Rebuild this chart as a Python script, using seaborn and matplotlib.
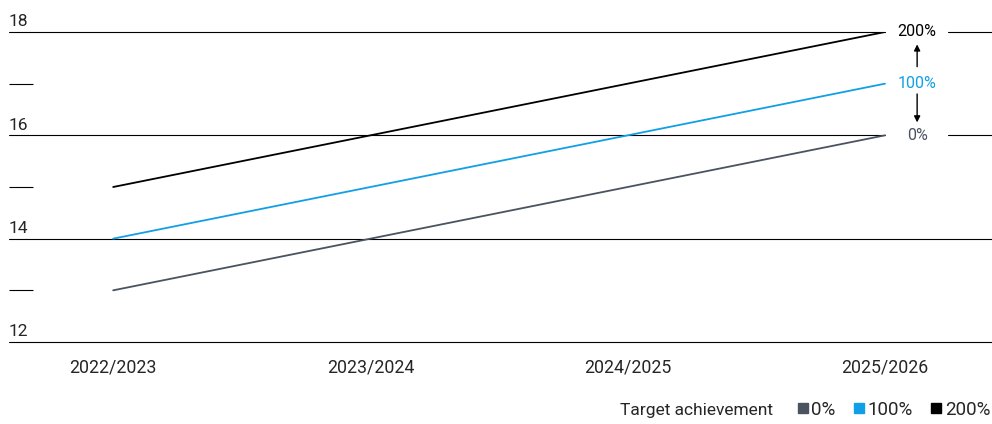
import pandas as pd
import matplotlib.pyplot as plt
import numpy as np
from matplotlib.lines import Line2D
import seaborn as sns

seasons = ["2022/2023", "2023/2024", "2024/2025", "2025/2026"]
levels = ["0%", "100%", "200%"]
vals_0 = [13, 14, 15, 16]
vals_100 = [14, 15, 16, 17]
vals_200 = [15, 16, 17, 18]
colors = {"0%": "#4a5360", "100%": "#119fe6", "200%": "#000000"}

sns.set_style("white")
plt.rcParams["font.family"] = ["Roboto", "DejaVu Sans"]

df = pd.DataFrame({
    "pos": list(range(len(seasons))) * 3,
    "value": vals_0 + vals_100 + vals_200,
    "level": [l for l in levels for _ in seasons],
})

fig = plt.figure(figsize=(9.92, 4.24), dpi=100)
ax = fig.add_axes([9 / 992, 82 / 424, 983 / 992, 310 / 424])

g = sns.lineplot(df, x="pos", y="value", hue="level", palette=colors,
                 linewidth=1.3, legend=False, ax=ax)
ax.set_xlim(-0.405, 3.416)
ax.set_ylim(12, 18)
for s in ax.spines.values():
    s.set_visible(False)

# gridlines, with gap next to right labels
gap_a = (885 - 9) / 983
gap_b = (948 - 9) / 983
for y in [18, 16]:
    ax.axhline(y, 0, gap_a, color="black", lw=0.8, zorder=0, clip_on=False)
    ax.axhline(y, gap_b, 1, color="black", lw=0.8, zorder=0, clip_on=False)
for y in [14, 12]:
    ax.axhline(y, 0, 1, color="black", lw=0.8, zorder=0, clip_on=False)

# y labels above lines, short dashes for odd values
ax.set_yticks([])
ax.set_yticks([13, 15, 17], minor=True)
ax.tick_params(axis="y", which="minor", direction="in", length=17, width=0.8,
               color="black", left=True)
for y in [12, 14, 16, 18]:
    ax.text(0.0, y + 0.05, str(y), transform=ax.get_yaxis_transform(),
            ha="left", va="bottom", fontsize=12.5)

ax.set_xticks(range(len(seasons)))
ax.set_xticklabels(seasons, fontsize=12.8)
ax.tick_params(axis="x", length=0, pad=12)
ax.set_xlabel("")
ax.set_ylabel("")

# right end labels
xl = 3.125
ax.text(xl, 18, "200%", ha="center", va="center", fontsize=11.5, color=colors["200%"])
ax.text(xl, 17, "100%", ha="center", va="center", fontsize=11.5, color=colors["100%"])
ax.text(xl, 16, "0%", ha="center", va="center", fontsize=11.5, color=colors["0%"])
ax.annotate("", xy=(xl, 17.76), xytext=(xl, 17.33),
            arrowprops=dict(arrowstyle="-|>", color="black", lw=1.0, mutation_scale=9,
                            shrinkA=0, shrinkB=0))
ax.annotate("", xy=(xl, 16.25), xytext=(xl, 16.8),
            arrowprops=dict(arrowstyle="-|>", color="black", lw=1.0, mutation_scale=9,
                            shrinkA=0, shrinkB=0))

handles = [Line2D([], [], marker="s", ls="", color=colors[l], markersize=7.5) for l in levels]
fig.legend(handles, levels, loc="center right", bbox_to_anchor=(1.0, 14 / 424),
           ncol=3, frameon=False, fontsize=13.5, handletextpad=-0.3, columnspacing=0.5,
           handlelength=1.5, borderaxespad=0, borderpad=0.1)
fig.text(773 / 992, 14 / 424, "Target achievement", ha="right", va="center", fontsize=12.5)

plt.savefig("out.png", dpi=100)
